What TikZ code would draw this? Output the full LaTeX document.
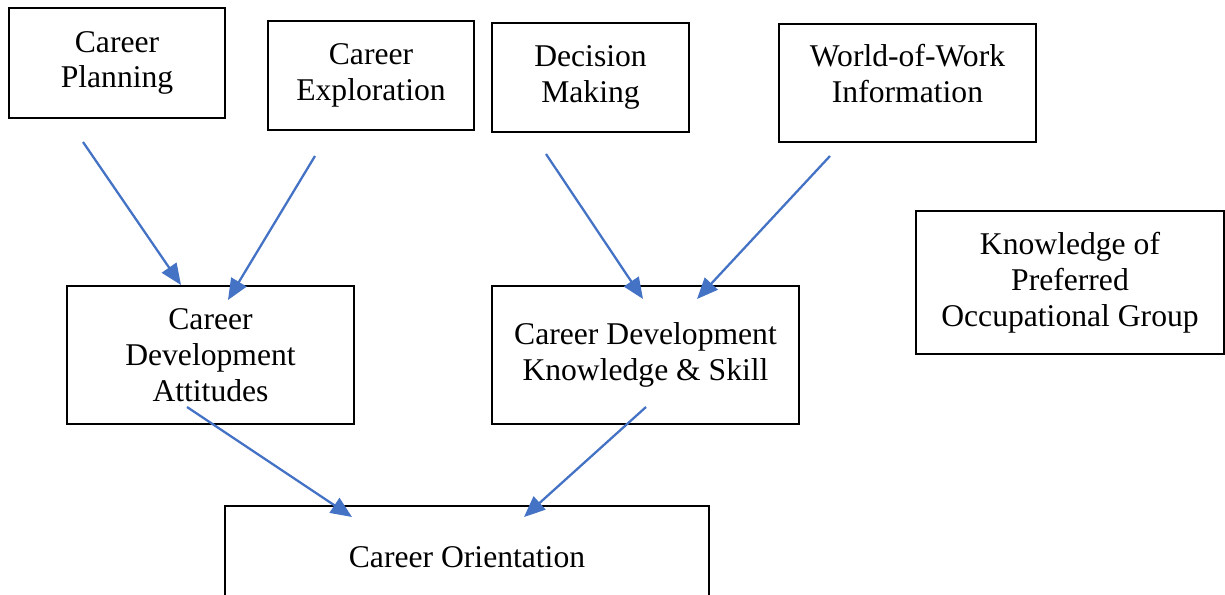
\documentclass[tikz,border=0pt]{standalone}
\usepackage{fontspec}
\setmainfont{Liberation Serif}
\usetikzlibrary{arrows.meta}
\definecolor{arrowblue}{HTML}{4472C4}
\tikzset{
	box/.style n args={2}{
		rectangle,
		draw = black,
		line width = 0.8pt,
		align = center,
		minimum width = #1,
		minimum height = #2,
		inner sep = 0pt,
		},
	flow/.style={
		draw = arrowblue,
		line width = 1.3pt,
		-{Triangle[length=12pt,width=10pt]},
		}
	}

\begin{document}
\begin{tikzpicture}[font=\fontsize{18}{20.4}\selectfont]
	\clip (0,0) rectangle (24.5,-11.9);
	\useasboundingbox (0,0) rectangle (24.5,-11.9);
	% top row
	\node (plan)   [box={4.32cm}{2.20cm}] at ( 2.34,-1.26) {Career\\Planning};
	\node (explor) [box={4.12cm}{2.18cm}] at ( 7.42,-1.51) {Career\\Exploration};
	\node (decide) [box={3.94cm}{2.18cm}] at (11.81,-1.55) {Decision\\Making};
	\node (world)  [box={5.14cm}{2.36cm}] at (18.15,-1.66) {World-of-Work\\Information\\[-9pt]\mbox{}};
	% middle row
	\node (attit)  [box={5.74cm}{2.76cm}] at ( 4.21,-7.10) {Career\\Development\\Attitudes};
	\node (skill)  [box={6.14cm}{2.76cm}] at (12.91,-7.10) {Career Development\\Knowledge \& Skill};
	\node (group)  [box={6.16cm}{2.86cm}] at (21.40,-5.65) {Knowledge of\\Preferred\\Occupational Group};
	% bottom
	\node (orient) [box={9.68cm}{2.04cm}] at ( 9.34,-11.14) {Career Orientation};
	% arrow ends
	\coordinate (plan-out)   at ( 1.66,-2.84);
	\coordinate (explor-out) at ( 6.30,-3.12);
	\coordinate (decide-out) at (10.92,-3.08);
	\coordinate (world-out)  at (16.60,-3.12);
	\coordinate (attit-in1)  at ( 3.62,-5.70);
	\coordinate (attit-in2)  at ( 4.56,-6.00);
	\coordinate (skill-in1)  at (12.86,-5.98);
	\coordinate (skill-in2)  at (13.94,-5.98);
	\coordinate (attit-out)  at ( 3.74,-8.14);
	\coordinate (skill-out)  at (12.92,-8.14);
	\coordinate (orient-in1) at ( 7.04,-10.34);
	\coordinate (orient-in2) at (10.48,-10.34);
	\draw [flow] (plan-out)   -- (attit-in1);
	\draw [flow] (explor-out) -- (attit-in2);
	\draw [flow] (decide-out) -- (skill-in1);
	\draw [flow] (world-out)  -- (skill-in2);
	\draw [flow] (attit-out)  -- (orient-in1);
	\draw [flow] (skill-out)  -- (orient-in2);
\end{tikzpicture}
\end{document}
